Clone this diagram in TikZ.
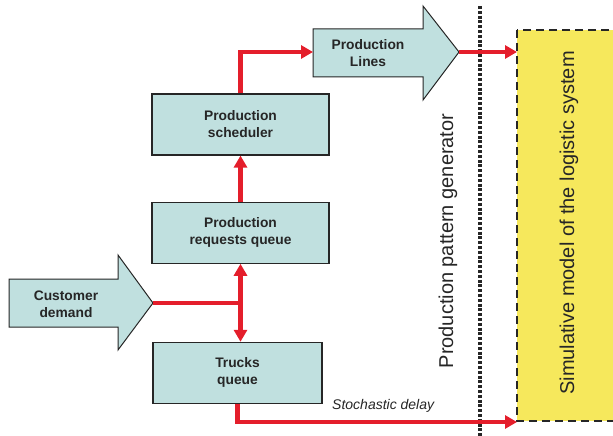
\documentclass[tikz,border=0pt]{standalone}
\usepackage{fontspec}
\setmainfont{Liberation Sans}
\usepackage{tikz}
\usetikzlibrary{arrows.meta,positioning,calc}
\definecolor{boxfill}{HTML}{C0E0DF}
\definecolor{flowred}{HTML}{E41E2B}
\definecolor{modelfill}{HTML}{F6E85C}
\definecolor{inkgray}{HTML}{262626}

\begin{document}
\begin{tikzpicture}[x=1pt, y=-1pt,
  stage/.style={draw=inkgray, line width=1.2pt, fill=boxfill, minimum width=177pt, minimum height=61pt, align=center, font=\fontsize{13.8}{17}\selectfont\bfseries, text=inkgray, inner sep=0pt},
  bigarrow/.style={draw=inkgray, line width=1pt, fill=boxfill},
  arrowtext/.style={align=center, font=\fontsize{13.8}{17}\selectfont\bfseries, text=inkgray, inner sep=0pt},
  sidetext/.style={rotate=90, font=\fontsize{20}{24}\selectfont, text=inkgray, inner sep=0pt},
  arr/.style={-{Triangle[length=12pt, width=13pt]}, line width=4.5pt, flowred},
  darr/.style={{Triangle[length=12pt, width=13pt]}-{Triangle[length=12pt, width=13pt]}, line width=4.5pt, flowred},
  plain/.style={line width=4.5pt, flowred}
]
  \clip (0,0) rectangle (613,436);

  % boxes
  \node[stage] (sched) at (240.5,124.5) {Production\\scheduler};
  \node[stage, below=46pt of sched] (req) {Production\\requests queue};
  \node[stage, minimum width=169pt, below=78pt of req.south, anchor=north, xshift=-3pt] (trucks) {Trucks\\queue};

  % big arrows
  \draw[bigarrow] (9,279) -- (118,279) -- (118,255) -- (153,303) -- (118,350) -- (118,327) -- (9,327) -- cycle;
  \node[arrowtext] (cust) at (66,304) {Customer\\demand};
  \coordinate (custtip) at (153,303);

  \draw[bigarrow] (313,29) -- (423,29) -- (423,6) -- (459,52) -- (423,100) -- (423,77) -- (313,77) -- cycle;
  \node[arrowtext] (plines) at (368,53) {Production\\Lines};
  \coordinate (plinesin) at (313,52);
  \coordinate (plinestip) at (459,52);

  % model of the logistic system
  \draw[fill=modelfill, draw=inkgray, line width=2.2pt, dash pattern=on 8pt off 5pt] (517,30) rectangle (640,421);
  \coordinate (model) at (517,30);
  \node[sidetext] (modeltext) at (569,223) {Simulative model of the logistic system};

  % generator border
  \coordinate (gentop) at (480,6);
  \coordinate (genbot) at (480,436);
  \draw[line width=3.2pt, inkgray, dash pattern=on 3pt off 1.8pt] (gentop) -- (genbot);
  \node[sidetext] (gentext) at (448,241) {Production pattern generator};

  % flows
  \coordinate (hub) at (req.south |- custtip);
  \draw[arr] (sched.north) -- (sched.north |- plinesin) -- (plinesin);
  \draw[arr] (req.north) -- (sched.south);
  \draw[plain] (custtip) -- (hub);
  \draw[darr] (req.south) -- (req.south |- trucks.north);
  \draw[arr] (plinestip) -- (model |- plinestip);
  \draw[arr] (trucks.south) -- ++(0,18) coordinate (delay) -- (model |- delay);
  \node[font=\fontsize{14}{16}\selectfont\itshape, text=inkgray, anchor=south west, inner sep=0pt] (delaytext) at (332,413) {Stochastic delay};
\end{tikzpicture}
\end{document}
